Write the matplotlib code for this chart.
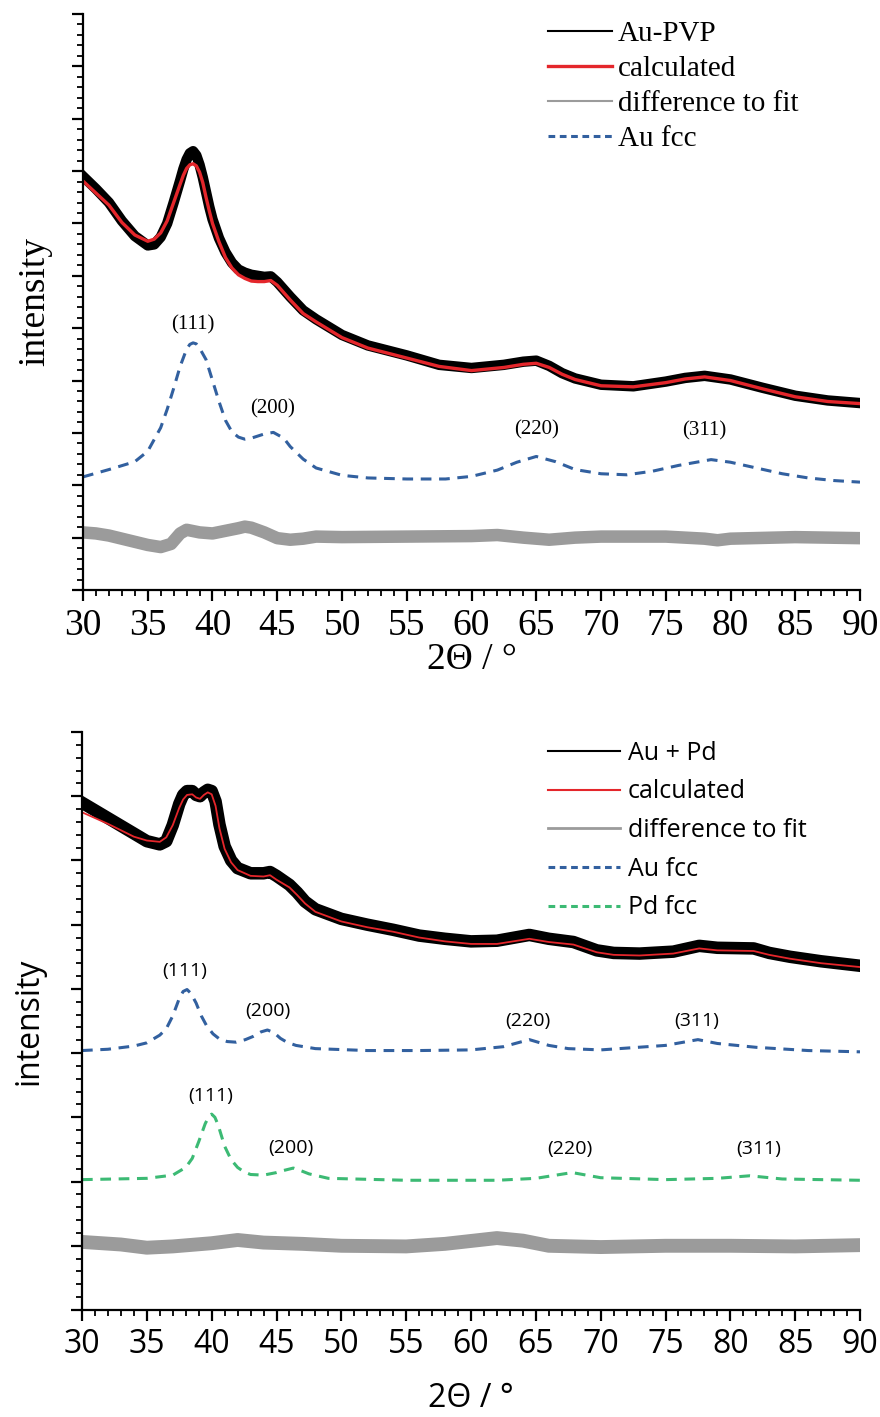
import matplotlib
matplotlib.use('Agg')
import matplotlib.pyplot as plt
from matplotlib.lines import Line2D
from matplotlib.ticker import MultipleLocator

# ---- top panel (Au-PVP) ----
x_top = [30, 31, 32, 33, 34, 35, 35.5, 36, 36.5, 37, 37.5, 37.75, 38, 38.25, 38.5, 38.75, 39, 39.25, 39.5,
         39.75, 40, 40.5, 41, 41.5, 42, 42.5, 43, 43.5, 44, 44.5, 45, 45.5, 46, 47, 48, 50, 52, 55, 57.5,
         60, 62.5, 64, 65, 66, 67, 68, 70, 72.5, 75, 76.5, 78, 80, 82.5, 85, 87.5, 90]
calc_top = [7.81, 7.58, 7.35, 7.02, 6.78, 6.66, 6.70, 6.82, 7.05, 7.40, 7.75, 7.92, 8.05, 8.12, 8.14, 8.10,
            7.98, 7.78, 7.50, 7.24, 7.00, 6.65, 6.35, 6.15, 6.02, 5.95, 5.90, 5.89, 5.89, 5.91, 5.82, 5.68,
            5.54, 5.28, 5.12, 4.82, 4.62, 4.43, 4.27, 4.19, 4.25, 4.31, 4.33, 4.25, 4.12, 4.02, 3.90, 3.88,
            3.96, 4.03, 4.07, 4.00, 3.84, 3.69, 3.60, 3.56]
meas_top = [7.90, 7.66, 7.40, 7.05, 6.76, 6.58, 6.60, 6.74, 7.00, 7.40, 7.82, 8.04, 8.22, 8.34, 8.38, 8.30,
            8.12, 7.88, 7.60, 7.32, 7.08, 6.72, 6.45, 6.25, 6.12, 6.06, 6.02, 6.00, 5.98, 5.99, 5.88, 5.74,
            5.60, 5.34, 5.17, 4.87, 4.67, 4.48, 4.30, 4.24, 4.30, 4.36, 4.38, 4.28, 4.14, 4.04, 3.92, 3.89,
            3.98, 4.05, 4.09, 4.02, 3.86, 3.71, 3.62, 3.57]

x_au_top = [30, 32, 34, 35, 36, 36.5, 37, 37.5, 38, 38.25, 38.5, 38.75, 39, 39.5, 40, 40.5, 41, 41.5, 42,
            42.5, 43, 44, 44.7, 45.5, 46, 47, 48, 50, 52, 55, 58, 60, 62, 63.5, 65, 66.5, 68, 70, 72, 74,
            76, 78.5, 80, 82, 84, 86, 88, 90]
au_top = [2.16, 2.30, 2.45, 2.65, 3.10, 3.45, 3.85, 4.27, 4.60, 4.69, 4.72, 4.70, 4.62, 4.40, 4.00, 3.60,
          3.24, 3.02, 2.92, 2.88, 2.90, 2.98, 3.01, 2.90, 2.74, 2.50, 2.33, 2.19, 2.14, 2.12, 2.12, 2.17,
          2.29, 2.44, 2.55, 2.45, 2.30, 2.22, 2.20, 2.27, 2.38, 2.49, 2.44, 2.33, 2.22, 2.14, 2.09, 2.06]

x_diff_top = [30, 31, 32, 33, 34, 35, 36, 36.8, 37.5, 38, 39, 40, 41, 42, 42.5, 43, 44, 45, 46, 47, 48,
              50, 55, 60, 62, 64, 66, 68, 70, 75, 78, 79, 80, 85, 90]
diff_top = [1.10, 1.08, 1.04, 0.98, 0.92, 0.86, 0.82, 0.88, 1.08, 1.15, 1.10, 1.08, 1.13, 1.18, 1.21, 1.19,
            1.10, 0.99, 0.96, 0.98, 1.02, 1.01, 1.02, 1.03, 1.05, 1.00, 0.96, 1.00, 1.02, 1.02, 0.98, 0.95,
            0.98, 1.01, 0.99]

hkl = ['(111)', '(200)', '(220)', '(311)']
hkl_x_top = [38.5, 44.6, 65.05, 78.0]
hkl_y_top = [5.07, 3.46, 3.06, 3.04]

# ---- bottom panel (Au + Pd) ----
x_bot = [30, 32, 34, 35, 36, 36.5, 37, 37.5, 37.8, 38.1, 38.5, 38.8, 39.1, 39.4, 39.7, 40, 40.3, 40.6, 41,
         41.5, 42, 43, 44, 44.5, 45, 46, 46.6, 47.2, 48, 50, 52, 54, 56, 58, 60, 62, 64.5, 66, 67.9, 69.7,
         71, 73, 75.6, 77.6, 79, 81.8, 83, 84.6, 87, 90]
calc_bot = [7.75, 7.57, 7.37, 7.31, 7.29, 7.36, 7.55, 7.82, 7.95, 8.02, 8.03, 7.98, 7.96, 8.02, 8.06, 8.03,
            7.85, 7.50, 7.18, 6.97, 6.85, 6.76, 6.75, 6.77, 6.70, 6.58, 6.46, 6.33, 6.20, 6.05, 5.96, 5.89,
            5.80, 5.74, 5.70, 5.70, 5.78, 5.73, 5.69, 5.57, 5.53, 5.52, 5.55, 5.63, 5.60, 5.59, 5.53, 5.47,
            5.40, 5.34]
meas_bot = [7.90, 7.66, 7.42, 7.30, 7.25, 7.30, 7.55, 7.88, 8.02, 8.08, 8.08, 8.02, 8.00, 8.06, 8.10, 8.08,
            7.92, 7.56, 7.22, 7.00, 6.88, 6.80, 6.80, 6.82, 6.76, 6.62, 6.50, 6.36, 6.24, 6.09, 6.00, 5.92,
            5.83, 5.78, 5.74, 5.75, 5.84, 5.78, 5.73, 5.60, 5.56, 5.55, 5.58, 5.67, 5.64, 5.63, 5.56, 5.50,
            5.43, 5.36]

x_au_bot = [30, 32, 34, 35, 36, 36.5, 37, 37.5, 37.8, 38.1, 38.4, 38.8, 39.2, 39.6, 40.1, 40.6, 41.2, 41.9,
            42.6, 43.2, 43.8, 44.3, 44.8, 45.3, 45.8, 46.5, 48, 52, 56, 60, 62.5, 64.5, 66, 67.5, 70, 75,
            77.5, 79, 82, 86, 90]
au_bot = [4.04, 4.06, 4.11, 4.16, 4.28, 4.38, 4.58, 4.85, 4.96, 4.99, 4.93, 4.78, 4.58, 4.43, 4.30, 4.22,
          4.18, 4.17, 4.21, 4.26, 4.33, 4.36, 4.32, 4.23, 4.17, 4.12, 4.07, 4.04, 4.04, 4.05, 4.10, 4.21,
          4.12, 4.07, 4.05, 4.12, 4.21, 4.15, 4.09, 4.04, 4.02]

x_pd_bot = [30, 35, 37, 38, 38.5, 39, 39.5, 39.8, 40, 40.25, 40.5, 41, 41.5, 42, 42.5, 43, 44, 45, 45.5,
            46.3, 47, 47.5, 49, 55, 62, 65, 67.8, 70, 75, 79, 81.5, 84, 90]
pd_bot = [2.03, 2.05, 2.10, 2.22, 2.36, 2.62, 2.90, 3.02, 3.05, 3.00, 2.88, 2.55, 2.34, 2.22, 2.15, 2.11,
          2.10, 2.14, 2.17, 2.21, 2.16, 2.12, 2.05, 2.02, 2.02, 2.05, 2.14, 2.06, 2.03, 2.05, 2.09, 2.04,
          2.02]

x_diff_bot = [30, 33, 35, 37, 40, 42, 44, 47, 50, 55, 58, 62, 64, 66, 70, 75, 80, 85, 90]
diff_bot = [1.06, 1.02, 0.97, 0.99, 1.04, 1.09, 1.05, 1.03, 1.00, 0.99, 1.03, 1.12, 1.08, 1.00, 0.98,
            1.00, 1.00, 0.99, 1.01]

hkl_x_au = [37.95, 44.3, 64.4, 77.4]
hkl_y_au = [5.28, 4.66, 4.50, 4.50]
hkl_x_pd = [39.9, 46.1, 67.6, 82.2]
hkl_y_pd = [3.33, 2.52, 2.50, 2.50]

RED = '#e4262b'
BLUE = '#32609f'
GREEN = '#3cba74'
GREY = '#9b9b9b'

W, H = 880, 1417
fig = plt.figure(figsize=(W / 100, H / 100), dpi=100)

serif = ['Liberation Serif', 'DejaVu Serif']
sans = ['Open Sans', 'DejaVu Sans']


def style_axes(ax, ymax, fam, tick_fs):
    ax.set_xlim(30, 90)
    ax.set_ylim(0, ymax)
    for s in ['top', 'right']:
        ax.spines[s].set_visible(False)
    for s in ['left', 'bottom']:
        ax.spines[s].set_linewidth(1.6)
    ax.xaxis.set_major_locator(MultipleLocator(5))
    ax.xaxis.set_minor_locator(MultipleLocator(1))
    ax.yaxis.set_major_locator(MultipleLocator(1))
    ax.yaxis.set_minor_locator(MultipleLocator(0.2))
    ax.tick_params(which='major', direction='out', length=8, width=1.6)
    ax.tick_params(which='minor', direction='out', length=4, width=1.3)
    ax.tick_params(axis='y', labelleft=False)
    ax.tick_params(axis='x', labelsize=tick_fs, pad=5)
    for lab in ax.get_xticklabels():
        lab.set_family(fam)


# top
ax1 = fig.add_axes([83 / W, 1 - 590 / H, 777 / W, 576 / H])
style_axes(ax1, 11, serif, 27)
ax1.plot(x_diff_top, diff_top, color=GREY, lw=9, solid_joinstyle='round')
ax1.plot(x_au_top, au_top, color=BLUE, lw=2.2, ls=(0, (3.5, 2.5)))
ax1.plot(x_top, meas_top, color='black', lw=7.5, solid_joinstyle='round')
ax1.plot(x_top, calc_top, color=RED, lw=2.4)
for t, xx, yy in zip(hkl, hkl_x_top, hkl_y_top):
    ax1.text(xx, yy, t, ha='center', va='center', fontsize=15, family=serif)
ax1.set_xlabel('2Θ / °', fontsize=27, family=serif, labelpad=0)
ax1.set_ylabel('intensity', fontsize=27, family=serif, labelpad=14)
h1 = [Line2D([], [], color='black', lw=1.5),
      Line2D([], [], color=RED, lw=2.4),
      Line2D([], [], color=GREY, lw=1.5),
      Line2D([], [], color=BLUE, lw=2.2, ls=(0, (2.2, 1.5)))]
ax1.legend(h1, ['Au-PVP', 'calculated', 'difference to fit', 'Au fcc'],
           loc='upper left', bbox_to_anchor=(533 / W, 1 - 6 / H), bbox_transform=fig.transFigure,
           frameon=False, borderpad=0, handlelength=2.2, handletextpad=0.2, labelspacing=0.3,
           prop={'family': serif, 'size': 21})

# bottom
ax2 = fig.add_axes([82 / W, 1 - 1310 / H, 778 / W, 578 / H])
style_axes(ax2, 9, sans, 23)
ax2.plot(x_diff_bot, diff_bot, color=GREY, lw=10, solid_joinstyle='round')
ax2.plot(x_au_bot, au_bot, color=BLUE, lw=2.2, ls=(0, (3.5, 2.5)))
ax2.plot(x_pd_bot, pd_bot, color=GREEN, lw=2.2, ls=(0, (3.5, 2.5)))
ax2.plot(x_bot, meas_bot, color='black', lw=9, solid_joinstyle='round')
ax2.plot(x_bot, calc_bot, color=RED, lw=1.3)
for t, xx, yy in zip(hkl, hkl_x_au, hkl_y_au):
    ax2.text(xx, yy, t, ha='center', va='center', fontsize=14, family=sans)
for t, xx, yy in zip(hkl, hkl_x_pd, hkl_y_pd):
    ax2.text(xx, yy, t, ha='center', va='center', fontsize=14, family=sans)
ax2.set_xlabel('2Θ / °', fontsize=23, family=sans, labelpad=15)
ax2.set_ylabel('intensity', fontsize=23, family=sans, labelpad=18)
h2 = [Line2D([], [], color='black', lw=1.5),
      Line2D([], [], color=RED, lw=1.5),
      Line2D([], [], color=GREY, lw=2),
      Line2D([], [], color=BLUE, lw=2.2, ls=(0, (2.2, 1.5))),
      Line2D([], [], color=GREEN, lw=2.2, ls=(0, (2.2, 1.5)))]
ax2.legend(h2, ['Au + Pd', 'calculated', 'difference to fit', 'Au fcc', 'Pd fcc'],
           loc='upper left', bbox_to_anchor=(535 / W, 1 - 728 / H), bbox_transform=fig.transFigure,
           frameon=False, borderpad=0, handlelength=2.9, handletextpad=0.3, labelspacing=0.55,
           prop={'family': sans, 'size': 18})

fig.savefig('out.png', dpi=100)
